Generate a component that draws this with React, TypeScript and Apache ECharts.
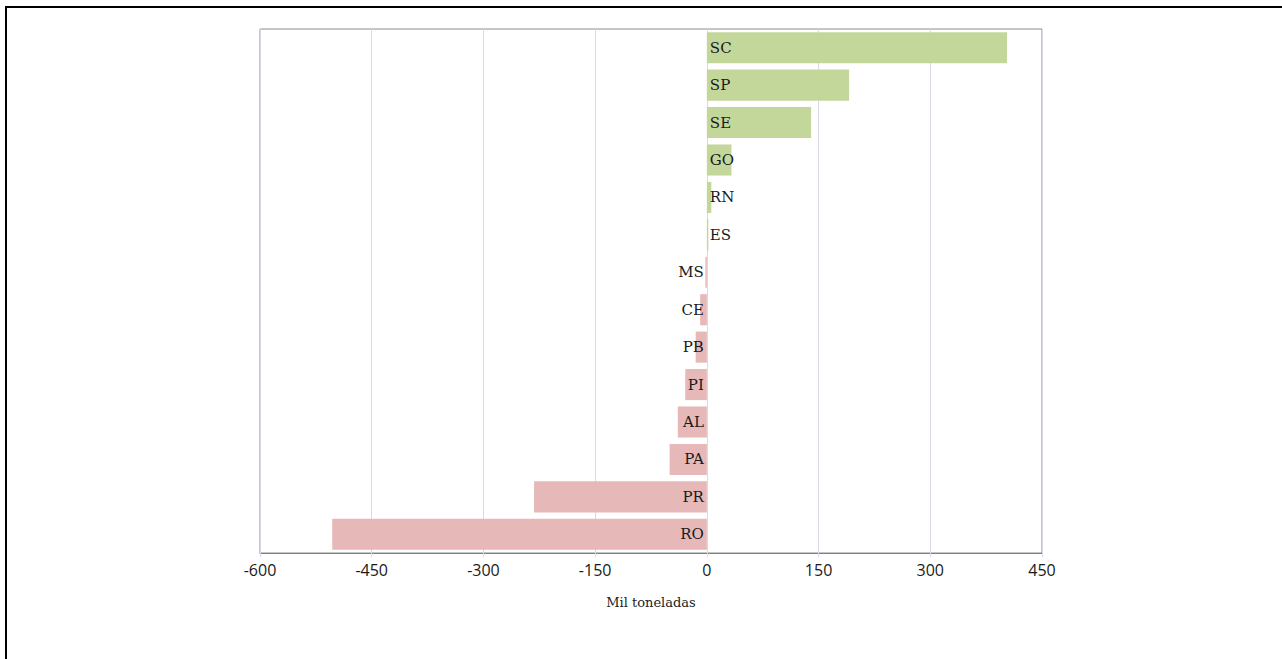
import React, { useEffect, useRef } from "react";
import * as echarts from "echarts";

const categories = ["SC", "SP", "SE", "GO", "RN", "ES", "MS", "CE", "PB", "PI", "AL", "PA", "PR", "RO"];
const values = [403, 191, 140, 33, 6, 2, -2, -9, -15, -29, -39, -50, -232, -503];
const xTicks = { min: -600, max: 450, interval: 150 };
const axisName = "Mil toneladas";

const POS_COLOR = "#c4d79b";
const NEG_COLOR = "#e6b8b7";

export default function App() {
  const ref = useRef<HTMLDivElement>(null);
  useEffect(() => {
    if (!ref.current) return;
    const chart = echarts.init(ref.current, null, { renderer: "svg" });
    const data = values.map((v) => ({
      value: v,
      itemStyle: { color: v >= 0 ? POS_COLOR : NEG_COLOR },
      label: {
        position: v >= 0 ? "insideLeft" : "insideRight",
        align: v >= 0 ? "left" : "right",
      },
    }));
    chart.setOption({
      animation: false,
      backgroundColor: "#ffffff",
      grid: {
        left: 260,
        right: 240,
        top: 29,
        bottom: 106,
        show: true,
        borderColor: "#8c8c8c",
        borderWidth: 1,
        containLabel: false,
      },
      xAxis: {
        type: "value",
        min: xTicks.min,
        max: xTicks.max,
        interval: xTicks.interval,
        name: axisName,
        nameLocation: "middle",
        nameGap: 43,
        nameTextStyle: { fontFamily: "DejaVu Serif", fontSize: 13, color: "#222" },
        axisLine: { show: true, lineStyle: { color: "#7f7f7f", width: 1 } },
        axisTick: { show: true, length: 4, lineStyle: { color: "#d9d9e6" } },
        axisLabel: { fontFamily: "Open Sans", fontSize: 16, color: "#1a1a1a", margin: 9 },
        splitLine: { show: true, lineStyle: { color: "#d9d9e6", width: 1 } },
      },
      yAxis: {
        type: "category",
        data: categories,
        inverse: true,
        axisLine: { show: false },
        axisTick: { show: false },
        axisLabel: { show: false },
        splitLine: { show: false },
      },
      series: [
        {
          type: "bar",
          data,
          barCategoryGap: "17%",
          label: {
            show: true,
            formatter: (p: any) => categories[p.dataIndex],
            fontFamily: "DejaVu Serif",
            fontSize: 15,
            color: "#1a1a1a",
            distance: 3,
          },
        },
      ],
      graphic: [
        { type: "line", shape: { x1: 5, y1: 7, x2: 1282, y2: 7 }, style: { stroke: "#000", lineWidth: 2 } },
        { type: "line", shape: { x1: 6, y1: 6, x2: 6, y2: 659 }, style: { stroke: "#000", lineWidth: 2 } },
      ],
    });
    return () => chart.dispose();
  }, []);
  return (
    <div
      ref={ref}
      style={{ position: "fixed", left: 0, top: 0, width: 1282, height: 659 }}
    />
  );
}
